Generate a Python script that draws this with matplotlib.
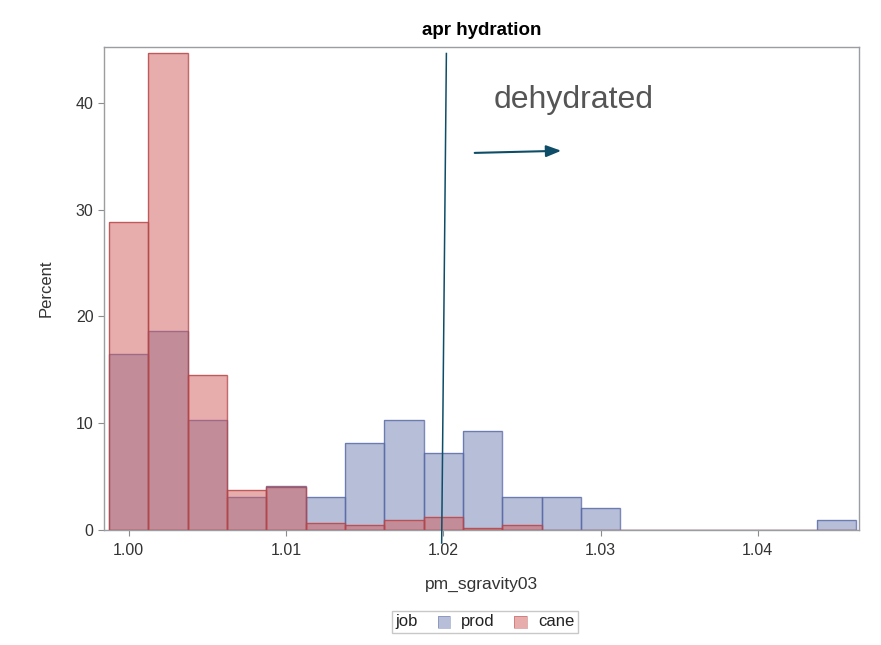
import matplotlib
matplotlib.use("Agg")
import matplotlib.pyplot as plt
from matplotlib.patches import Rectangle
from matplotlib.offsetbox import HPacker, TextArea, DrawingArea, AnchoredOffsetbox

plt.rcParams['font.family'] = ['Liberation Sans', 'DejaVu Sans']

# bin centres (width 0.0025) and percentages
bin_centers = [1.000, 1.0025, 1.005, 1.0075, 1.010, 1.0125, 1.015, 1.0175, 1.020,
               1.0225, 1.025, 1.0275, 1.030, 1.0325, 1.035, 1.0375, 1.040, 1.0425, 1.045]
bin_width = 0.0025
prod_pct = [16.5, 18.6, 10.3, 3.1, 4.1, 3.1, 8.2, 10.3, 7.2, 9.3, 3.1, 3.1, 2.1,
            0, 0, 0, 0, 0, 1.0]
cane_pct = [28.8, 44.6, 14.5, 3.75, 4.0, 0.7, 0.45, 0.95, 1.25, 0.22, 0.45, 0, 0,
            0, 0, 0, 0, 0, 0]

x_ticks = [1.00, 1.01, 1.02, 1.03, 1.04]
x_ticklabels = ['1.00', '1.01', '1.02', '1.03', '1.04']
y_ticks = [0, 10, 20, 30, 40]

prod_face = '#6F7EB3'
prod_edge = '#5a6aa6'
cane_face = '#D05B5B'
cane_edge = '#b84444'
note_color = '#0e4d68'

fig = plt.figure(figsize=(8.81, 6.45), dpi=100)
ax = fig.add_axes([0.118, 0.178, 0.857, 0.749])

ax.bar(bin_centers, prod_pct, width=bin_width, color=prod_face, alpha=0.5,
       edgecolor='none', zorder=2)
ax.bar(bin_centers, prod_pct, width=bin_width, facecolor='none',
       edgecolor=prod_edge, linewidth=1.0, alpha=0.8, zorder=2)
ax.bar(bin_centers, cane_pct, width=bin_width, color=cane_face, alpha=0.5,
       edgecolor='none', zorder=3)
ax.bar(bin_centers, cane_pct, width=bin_width, facecolor='none',
       edgecolor=cane_edge, linewidth=1.0, alpha=0.8, zorder=3)

ax.set_xlim(0.99843, 1.04643)
ax.set_ylim(0, 45.2)
ax.set_xticks(x_ticks)
ax.set_xticklabels(x_ticklabels)
ax.set_yticks(y_ticks)
ax.tick_params(axis='both', direction='out', length=4.5, width=0.8, color='#8c8c8c',
               labelsize=11.5, labelcolor='#333333')
ax.tick_params(axis='x', pad=5)
ax.tick_params(axis='y', pad=3)
for sp in ax.spines.values():
    sp.set_color('#9a9ea3')
    sp.set_linewidth(1.0)

ax.set_xlabel('pm_sgravity03', fontsize=12.5, color='#333333', labelpad=13)
ax.set_ylabel('Percent', fontsize=12, color='#333333', labelpad=16)
ax.set_title('apr hydration', fontsize=13.5, fontweight='bold', pad=9)

# annotations: cutoff line and arrow
ax.plot([1.0202, 1.0199], [44.6, -1.2], color=note_color, linewidth=1.1,
        clip_on=False, zorder=5)
ax.annotate('', xy=(1.0275, 35.5), xytext=(1.0220, 35.3),
            arrowprops=dict(arrowstyle='-|>,head_length=0.9,head_width=0.35',
                            color=note_color, lw=1.5, shrinkA=0, shrinkB=0))
ax.text(1.0232, 39.5, 'dehydrated', fontsize=23, color='#555555', ha='left',
        va='baseline')

# legend: "job" followed by swatches
def swatch(face, edge):
    da = DrawingArea(9, 9, 0, 0)
    da.add_artist(Rectangle((0, 0), 9, 9, facecolor=face, alpha=0.5,
                            edgecolor='none'))
    da.add_artist(Rectangle((0, 0), 9, 9, facecolor='none', edgecolor=edge,
                            linewidth=0.6, alpha=0.5))
    return da

txt = dict(fontsize=12, color='#222222')
items = [
    TextArea('job', textprops=txt),
    HPacker(children=[swatch(prod_face, prod_edge), TextArea('prod', textprops=txt)],
            align='center', pad=0, sep=8),
    HPacker(children=[swatch(cane_face, cane_edge), TextArea('cane', textprops=txt)],
            align='center', pad=0, sep=8),
]
box = HPacker(children=items, align='center', pad=0, sep=14)
anch = AnchoredOffsetbox(loc='center', child=box, pad=0.25, frameon=True,
                         bbox_to_anchor=(0.5505, 0.0357),
                         bbox_transform=fig.transFigure, borderpad=0)
anch.patch.set_edgecolor('#c8c8c8')
anch.patch.set_linewidth(1.0)
fig.add_artist(anch)

fig.savefig('out.png', dpi=100)
